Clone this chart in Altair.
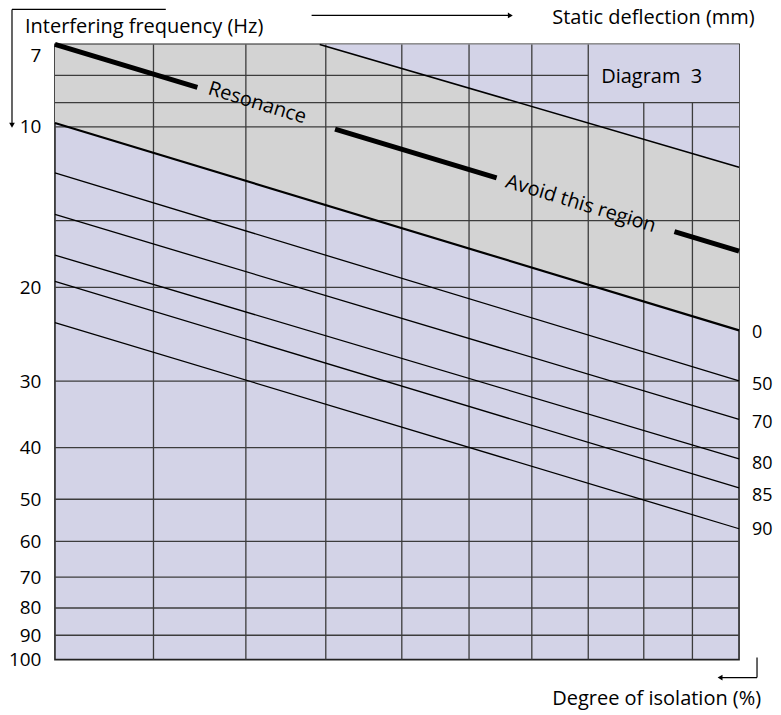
import altair as alt
import pandas as pd

# ---------------- data ----------------
freq_ticks = [7, 10, 20, 30, 40, 50, 60, 70, 80, 90, 100]
defl_left, defl_right = 5.07, 0.85          # static deflection (mm) at left / right edge
f_top, f_bottom = 7, 100                   # interfering frequency range (Hz)

hgrid_freq = [9, 10, 15, 20, 30, 40, 50, 60, 70, 80, 90]
hgrid_short_freq = [8]
hgrid_short_end = [1.26]
vgrid_defl = [3.92, 3.08, 2.50, 2.05, 1.72, 1.46, 1.26]
vgrid_short_defl = [1.09, 0.96]
vgrid_short_start = 9

iso_labels = ["0", "50", "70", "80", "85", "90"]
iso_f_left = [9.83, 12.2, 14.6, 17.4, 19.5, 23.3]
iso_f_right = [24.1, 29.96, 35.4, 42.0, 47.6, 56.8]
iso_label_f = [24.35, 30.5, 35.9, 42.9, 49.2, 57.0]

res_f = [7.0, 17.1]                        # resonance line, left / right
upper_d = [2.54, 0.85]                     # upper boundary of the avoid region
upper_f = [7.0, 11.9]

res_text = ["Resonance", "Avoid this region"]
res_text_d = [2.99, 1.285]
res_text_f = [9.02, 13.95]

FONT = "Open Sans"
GREY = "#d3d3d3"
LAV = "#d3d3e7"
GRID = "#3c3c3c"

xs = alt.Scale(type="log", domain=[defl_right, defl_left], reverse=True, nice=False, zero=False)
ys = alt.Scale(type="log", domain=[f_top, f_bottom], reverse=True, nice=False, zero=False)
yaxis = alt.Axis(
    values=freq_ticks, format="d", labelFont=FONT, labelFontSize=19, labelColor="black",
    labelPadding=14, ticks=False, domain=False, grid=False, title=None,
    labelOverlap=False, labelBaseline="middle",
    labelOffset={"condition": {"test": "datum.value == 7", "value": 11}, "value": 0},
)

# ---------------- tables ----------------
grey_df = pd.DataFrame({"d": [defl_left, defl_right], "f": [iso_f_left[0], iso_f_right[0]],
                        "f2": [f_top, f_top]})
lav_df = pd.DataFrame({"d": upper_d, "f": upper_f, "f2": [f_top, f_top]})

h_rows = [{"f": f, "d1": defl_left, "d2": defl_right} for f in hgrid_freq]
h_rows += [{"f": f, "d1": defl_left, "d2": e} for f, e in zip(hgrid_short_freq, hgrid_short_end)]
hgrid_df = pd.DataFrame(h_rows)

v_rows = [{"d": d, "f1": f_top, "f2": f_bottom} for d in vgrid_defl]
v_rows += [{"d": d, "f1": vgrid_short_start, "f2": f_bottom} for d in vgrid_short_defl]
vgrid_df = pd.DataFrame(v_rows)

iso_rows = []
for lab, fl, fr in zip(iso_labels, iso_f_left, iso_f_right):
    iso_rows.append({"line": lab, "d": defl_left, "f": fl})
    iso_rows.append({"line": lab, "d": defl_right, "f": fr})
iso_df = pd.DataFrame(iso_rows)
iso0_df = iso_df[iso_df["line"] == "0"]
iso_other_df = iso_df[iso_df["line"] != "0"]

isolab_df = pd.DataFrame({"label": iso_labels, "f": iso_label_f, "d": [defl_right] * len(iso_labels)})
res_df = pd.DataFrame({"d": [defl_left, defl_right], "f": res_f})
upper_df = pd.DataFrame({"d": upper_d, "f": upper_f})
restext_df = pd.DataFrame({"t": res_text, "d": res_text_d, "f": res_text_f})

X = lambda field: alt.X(field, scale=xs, axis=None)
Y = lambda field: alt.Y(field, scale=ys, axis=yaxis)

grey = alt.Chart(grey_df).mark_area(color=GREY, opacity=1).encode(x=X("d:Q"), y=Y("f:Q"), y2="f2:Q")
lav = alt.Chart(lav_df).mark_area(color=LAV, opacity=1).encode(x=X("d:Q"), y=Y("f:Q"), y2="f2:Q")

hgrid = alt.Chart(hgrid_df).mark_rule(color=GRID, strokeWidth=1.3).encode(
    x=X("d1:Q"), x2="d2:Q", y=Y("f:Q"))
vgrid = alt.Chart(vgrid_df).mark_rule(color=GRID, strokeWidth=1.3).encode(
    x=X("d:Q"), y=Y("f1:Q"), y2="f2:Q")

iso_lines = alt.Chart(iso_other_df).mark_line(color="black", strokeWidth=1.3).encode(
    x=X("d:Q"), y=Y("f:Q"), detail="line:N")
iso0 = alt.Chart(iso0_df).mark_line(color="black", strokeWidth=2.2).encode(
    x=X("d:Q"), y=Y("f:Q"))
upper = alt.Chart(upper_df).mark_line(color="black", strokeWidth=1.6).encode(
    x=X("d:Q"), y=Y("f:Q"))
res = alt.Chart(res_df).mark_line(color="black", strokeWidth=5, strokeCap="butt",
                                  strokeDash=[149, 144, 169, 186, 200, 10]).encode(
    x=X("d:Q"), y=Y("f:Q"))
res_txt = alt.Chart(restext_df).mark_text(font=FONT, fontSize=20, color="black", angle=17,
                                          align="center", baseline="middle").encode(
    x=X("d:Q"), y=Y("f:Q"), text="t:N")
iso_txt = alt.Chart(isolab_df).mark_text(font=FONT, fontSize=18, color="black", align="left",
                                         baseline="middle", dx=13).encode(
    x=X("d:Q"), y=Y("f:Q"), text="label:N")

one = pd.DataFrame({"k": [0]})


def txt(s, x, y, align="left"):
    return alt.Chart(one).mark_text(text=s, align=align, baseline="alphabetic", font=FONT,
                                    fontSize=20, color="black").encode(
        x=alt.value(x), y=alt.value(y))


def hline(x1, x2, y):
    return alt.Chart(one).mark_rule(color="black", strokeWidth=1.2).encode(
        x=alt.value(x1), x2=alt.value(x2), y=alt.value(y))


def vline(x, y1, y2):
    return alt.Chart(one).mark_rule(color="black", strokeWidth=1.2).encode(
        x=alt.value(x), y=alt.value(y1), y2=alt.value(y2))


def head(shape, x, y):
    return alt.Chart(one).mark_point(shape=shape, filled=True, size=32, color="black",
                                     opacity=1).encode(x=alt.value(x), y=alt.value(y))


annotations = [
    txt("Interfering frequency (Hz)", -30, -11),
    txt("Static deflection (mm)", 498, -20),
    txt("Degree of isolation (%)", 498, 661),
    txt("Diagram\u00a0\u00a03", 547, 39),
    hline(-43, 111, -35), vline(-43, -35, 80), head("triangle-down", -43, 81),
    hline(257, 456, -29), head("triangle-right", 456, -29),
    vline(703, 614, 634), hline(667, 703, 634), head("triangle-left", 666, 634),
]

chart = alt.layer(
    grey, lav, hgrid, vgrid, iso_lines, iso0, upper, res, res_txt, iso_txt, *annotations
).properties(
    width=685, height=616,
    padding={"left": 47, "top": 36, "right": 34, "bottom": 50},
    autosize=alt.AutoSizeParams(type="none"),
).configure_view(fill=LAV, stroke="#222222", strokeWidth=1.6)

chart.save("out.html", embed_options={"renderer": "svg", "actions": False})
